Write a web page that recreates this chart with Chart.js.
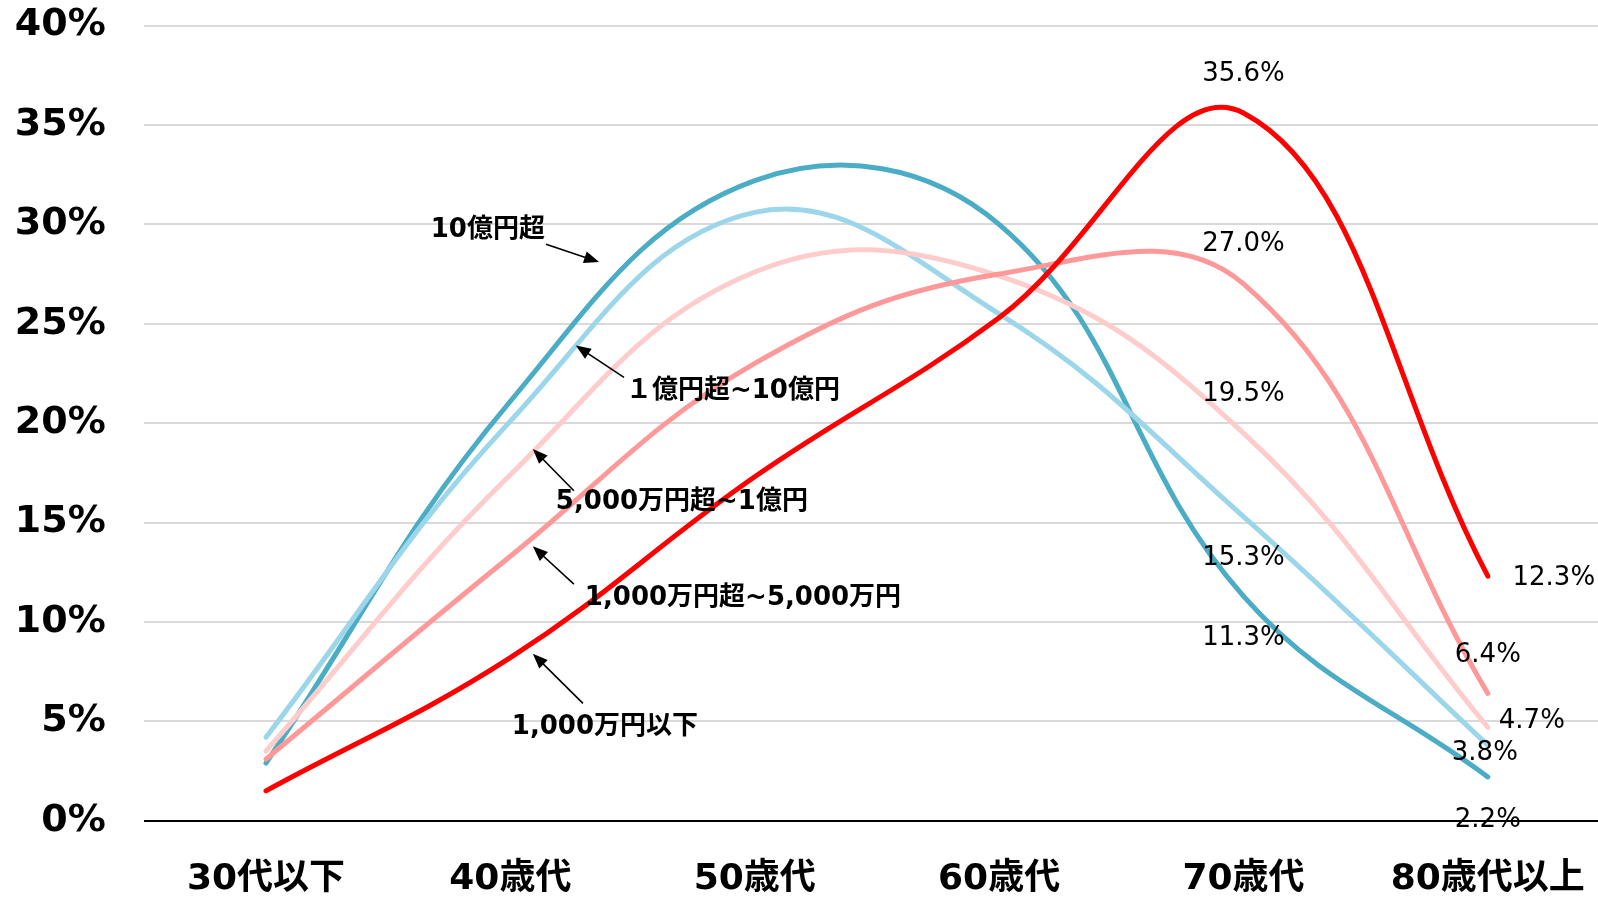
<!DOCTYPE html>
<html>
<head>
<meta charset="utf-8">
<script src="https://cdn.jsdelivr.net/npm/chart.js@4.4.1/dist/chart.umd.min.js"></script>
<style>
html, body { margin: 0; padding: 0; background: #fff; overflow: hidden; }
#wrap { width: 1598px; height: 899px; overflow: hidden; }
</style>
</head>
<body>
<div id="wrap"><canvas id="myChartAge" width="1612" height="899"></canvas></div>
<script>
// categories and values (%)
var ageGroups = ['30代以下', '40歳代', '50歳代', '60歳代', '70歳代', '80歳代以上'];
var under10m = [1.5, 8.2, 17.3, 25.3, 35.6, 12.3];
var from10mTo50m = [3.1, 13.3, 23.0, 27.5, 27.0, 6.4];
var from50mTo100m = [3.5, 17.4, 27.6, 27.4, 19.5, 4.7];
var from100mTo1b = [4.2, 20.1, 30.6, 25.5, 15.3, 3.8];
var over1b = [2.9, 21.1, 32.2, 30.0, 11.3, 2.2];
var seriesNames = ['1,000万円以下', '1,000万円超~5,000万円', '5,000万円超~1億円', '１億円超~10億円', '10億円超'];

// where each series name sits, in (category index, %) units
var callouts = [
  { name: seriesNames[4], text: [0.908, 29.7], from: [1.146, 29.0], to: [1.363, 28.1] },
  { name: seriesNames[3], text: [1.911, 21.6], from: [1.465, 22.3], to: [1.268, 23.9] },
  { name: seriesNames[2], text: [1.702, 16.0], from: [1.260, 16.6], to: [1.092, 18.7] },
  { name: seriesNames[1], text: [1.952, 11.2], from: [1.260, 11.9], to: [1.092, 13.8] },
  { name: seriesNames[0], text: [1.387, 4.7], from: [1.297, 5.9], to: [1.092, 8.4] }
];

function makeSet(label, data, color, offsets) {
  return {
    label: label,
    data: data,
    borderColor: color,
    backgroundColor: color,
    borderWidth: 5,
    borderCapStyle: 'round',
    pointRadius: 0,
    tension: 0.4,
    fill: false,
    labelOffsets: offsets
  };
}

const valueLabels = {
  id: 'valueLabels',
  afterDatasetsDraw(chart) {
    const ctx = chart.ctx;
    const xs = chart.scales.x, ys = chart.scales.y;
    ctx.save();
    ctx.fillStyle = '#000';
    ctx.textAlign = 'center';
    ctx.textBaseline = 'middle';
    ctx.font = '26px "DejaVu Sans"';
    chart.data.datasets.forEach((ds, i) => {
      const meta = chart.getDatasetMeta(i);
      ds.labelOffsets.forEach((off, j) => {
        if (!off) return;
        const pt = meta.data[j];
        ctx.fillText(ds.data[j].toFixed(1) + '%', pt.x + off[0], pt.y + off[1]);
      });
    });

    ctx.font = 'bold 26px "DejaVu Sans", "Noto Sans CJK JP"';
    ctx.strokeStyle = '#000';
    ctx.lineWidth = 1.6;
    callouts.forEach((c) => {
      const tx = xs.getPixelForValue(c.text[0]), ty = ys.getPixelForValue(c.text[1]);
      ctx.fillText(c.name, tx, ty);
      const x1 = xs.getPixelForValue(c.from[0]), y1 = ys.getPixelForValue(c.from[1]);
      const x2 = xs.getPixelForValue(c.to[0]), y2 = ys.getPixelForValue(c.to[1]);
      const a = Math.atan2(y2 - y1, x2 - x1);
      const hl = 15, hw = 6;
      ctx.beginPath();
      ctx.moveTo(x1, y1);
      ctx.lineTo(x2 - Math.cos(a) * hl * 0.8, y2 - Math.sin(a) * hl * 0.8);
      ctx.stroke();
      ctx.beginPath();
      ctx.moveTo(x2, y2);
      ctx.lineTo(x2 - Math.cos(a) * hl - Math.sin(a) * hw, y2 - Math.sin(a) * hl + Math.cos(a) * hw);
      ctx.lineTo(x2 - Math.cos(a) * hl + Math.sin(a) * hw, y2 - Math.sin(a) * hl - Math.cos(a) * hw);
      ctx.closePath();
      ctx.fill();
    });
    ctx.restore();
  }
};

const ctx = document.getElementById('myChartAge').getContext('2d');
const myChart = new Chart(ctx, {
  type: 'line',
  data: {
    labels: ageGroups,
    datasets: [
      makeSet(seriesNames[0], under10m, 'rgb(255, 0, 0)', [null, null, null, null, [0, -39], [66, 2]]),
      makeSet(seriesNames[1], from10mTo50m, 'rgb(255, 153, 153)', [null, null, null, null, [0, -40], [0, -38]]),
      makeSet(seriesNames[2], from50mTo100m, 'rgb(255, 204, 204)', [null, null, null, null, [0, -39], [44, -6]]),
      makeSet(seriesNames[3], from100mTo1b, 'rgb(155, 214, 234)', [null, null, null, null, [0, 42], [-3, 8]]),
      makeSet(seriesNames[4], over1b, 'rgb(75, 172, 198)', [null, null, null, null, [0, 42], [0, 43]])
    ]
  },
  plugins: [valueLabels],
  options: {
    responsive: false,
    animation: false,
    layout: { padding: { top: 25.5, right: 2, left: 0, bottom: 0 } },
    plugins: {
      legend: { display: false },
      tooltip: { enabled: false }
    },
    scales: {
      x: {
        offset: true,
        grid: { display: false, drawTicks: false },
        border: { display: false },
        ticks: {
          color: '#000',
          padding: 37,
          maxRotation: 0,
          font: { family: '"DejaVu Sans", "Noto Sans CJK JP"', size: 36, weight: 'bold' }
        },
        afterFit(scale) { scale.height = 78.3; scale.paddingLeft = 0; scale.paddingRight = 0; }
      },
      y: {
        min: 0,
        max: 40,
        border: { display: false },
        grid: {
          drawTicks: false,
          lineWidth: 2,
          color: (c) => c.tick && c.tick.value === 0 ? '#000' : '#d9d9d9'
        },
        ticks: {
          stepSize: 5,
          color: '#000',
          padding: 38,
          font: { family: '"DejaVu Sans"', size: 38, weight: 'bold' },
          callback: (v) => v + '%'
        },
        afterFit(scale) { scale.width = 143.8; scale.paddingTop = 0; scale.paddingBottom = 0; }
      }
    }
  }
});
</script>
</body>
</html>
